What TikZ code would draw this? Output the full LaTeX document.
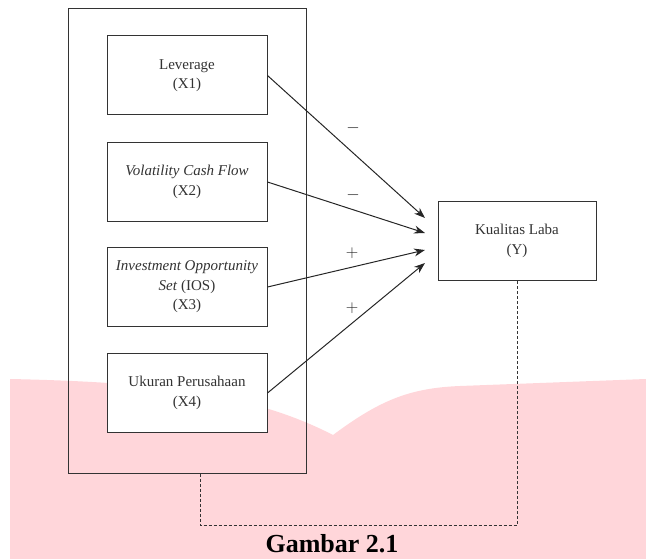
\documentclass[tikz,border=0pt]{standalone}
\usepackage{fontspec}
\setmainfont{Liberation Serif}
\usetikzlibrary{arrows.meta}
\definecolor{latarpink}{RGB}{255,214,218}
\definecolor{garis}{RGB}{51,51,51}
\tikzset{
    kotak/.style={draw=garis, line width=1pt, fill=white, align=center, text=black!80,
        minimum width=160pt, minimum height=79pt, inner sep=0pt,
        font=\fontsize{15}{19.5}\selectfont},
    panah/.style={-{Stealth[length=11pt,width=8pt]}, line width=1pt, draw=black!85},
    tanda/.style={inner sep=0pt, text=black!85, font=\fontsize{16}{16}\selectfont}
}
\begin{document}
\begin{tikzpicture}[x=1pt, y=-1pt]
    \useasboundingbox (0,0) rectangle (646,559);

    % Latar
    \fill[latarpink] (10,559) -- (10,379) .. controls (150,382) and (250,392) .. (333,435)
        .. controls (380,400) and (410,388) .. (460,386) -- (646,379) -- (646,559) -- cycle;

    % Kotak luar
    \node[draw=garis, line width=1pt, minimum width=238pt, minimum height=464pt, inner sep=0pt] (luar) at (187,241) {};

    % Variabel X
    \node[kotak] (x1) at (187,75.5) {Leverage\\(X1)};
    \node[kotak] (x2) at (187,182) {\textit{Volatility Cash Flow}\\(X2)};
    \node[kotak] (x3) at (187,287) {\textit{Investment Opportunity}\\\textit{Set} (IOS)\\(X3)};
    \node[kotak] (x4) at (187,393) {Ukuran Perusahaan\\(X4)};

    % Variabel Y
    \node[kotak, minimum width=158pt, minimum height=78pt] (y) at (517,241) {Kualitas Laba\\(Y)};

    % Ujung panah
    \coordinate (t1) at (425,218);
    \coordinate (t2) at (425,233);
    \coordinate (t3) at (425,250);
    \coordinate (t4) at (425,263);
    \draw[panah] (x1.east) -- (t1);
    \draw[panah] (x2.east) -- (t2);
    \draw[panah] (x3.east) -- (t3);
    \draw[panah] (x4.east) -- (t4);

    % Tanda
    \node[tanda] (s1) at (353,128) {$-$};
    \node[tanda] (s2) at (353,195) {$-$};
    \node[tanda] (s3) at (352,253) {$+$};
    \node[tanda] (s4) at (352,308) {$+$};

    % Garis putus-putus
    \coordinate (dl) at (200,525);
    \coordinate (dr) at (517,525);
    \draw[dashed, dash pattern=on 3pt off 2pt, line width=0.9pt, draw=garis] (luar.south -| dl) -- (dl) -- (dr) -- (y.south);

    % Judul
    \node[anchor=base, font=\fontsize{26}{30}\selectfont\bfseries] (judul) at (332,552) {Gambar 2.1};
\end{tikzpicture}
\end{document}
